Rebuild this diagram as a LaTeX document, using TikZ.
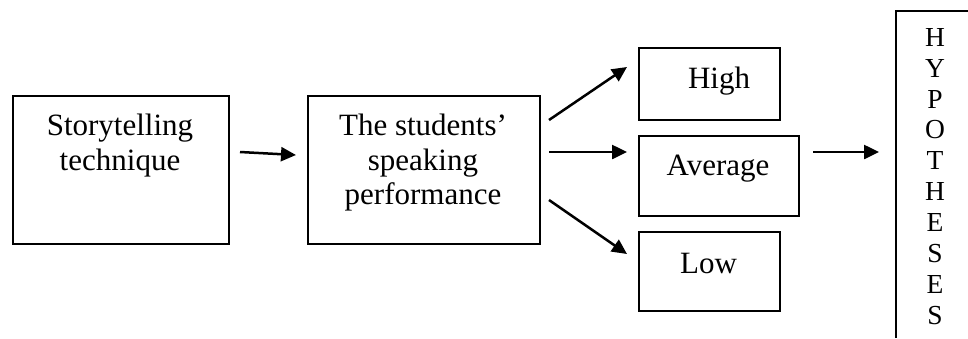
\documentclass[tikz,border=0pt]{standalone}
\usepackage{fontspec}
\setmainfont{Liberation Serif}
\usetikzlibrary{arrows.meta}
\begin{document}
\begin{tikzpicture}[x=1pt,y=-1pt,
  box/.style={draw,line width=1.8pt,rectangle,anchor=north west,inner sep=0pt},
  txt/.style={inner sep=0pt,align=center,font=\fontsize{31}{34.5}\selectfont},
  arr/.style={line width=2.5pt,-{Triangle[length=15pt,width=14pt]}}]
\useasboundingbox (0,0) rectangle (968,338);
% boxes
\node[box,minimum width=216pt,minimum height=148pt] (b1) at (12,95) {};
\node[box,minimum width=232pt,minimum height=148pt] (b2) at (307,95) {};
\node[box,minimum width=141pt,minimum height=72pt] (hi) at (638,47) {};
\node[box,minimum width=160pt,minimum height=80pt] (av) at (638,135) {};
\node[box,minimum width=141pt,minimum height=79pt] (lo) at (638,231) {};
% texts
\node[txt,anchor=north] (t1) at (120,114) {Storytelling\\technique};
\node[txt,anchor=north] (t2) at (423,114) {The students’\\speaking\\performance};
\node[txt,anchor=base] (th) at (719,88) {High};
\node[txt,anchor=base] (ta) at (718,175) {Average};
\node[txt,anchor=base] (tl) at (708.5,273) {Low};
% hypotheses box (open to the right and bottom)
\draw[line width=1.8pt] (896,338) -- (896,11) -- (968,11);
\node[inner sep=0pt,align=center,anchor=north,font=\fontsize{27.5}{30.9}\selectfont] (hy) at (935,28) {H\\Y\\P\\O\\T\\H\\E\\S\\E\\S};
% arrow ends
\coordinate (a1s) at (240,152); \coordinate (a1e) at (296,155);
\coordinate (a2s) at (549,120); \coordinate (a2e) at (627,67);
\coordinate (a3s) at (549,152); \coordinate (a3e) at (627,152);
\coordinate (a4s) at (549,200); \coordinate (a4e) at (627,254);
\coordinate (a5s) at (813,152); \coordinate (a5e) at (879,152);
\draw[arr] (a1s) -- (a1e);
\draw[arr] (a2s) -- (a2e);
\draw[arr] (a3s) -- (a3e);
\draw[arr] (a4s) -- (a4e);
\draw[arr] (a5s) -- (a5e);
\end{tikzpicture}
\end{document}
